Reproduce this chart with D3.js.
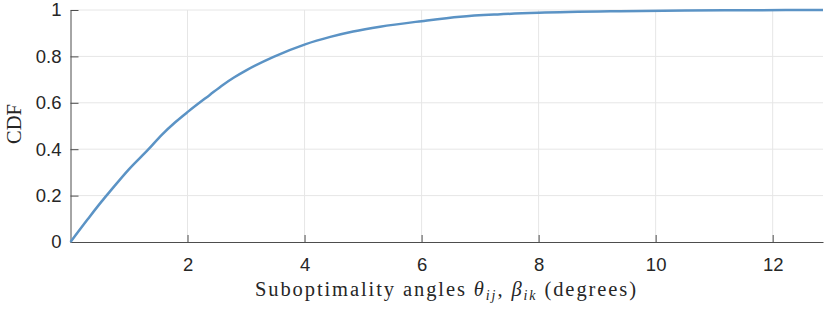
<!DOCTYPE html>
<html>
<head>
<meta charset="utf-8">
<script src="https://cdn.jsdelivr.net/npm/d3@7"></script>
<style>
  body { margin: 0; background: #fff; }
  .tick text { font-family: "Liberation Sans", Arial, sans-serif; font-size: 18.5px; fill: #262626; }
  .lbl { font-family: "Liberation Serif", "Times New Roman", serif; font-size: 20.5px; fill: #262626; }
</style>
</head>
<body>
<div id="chart"></div>
<script>
var angleDeg = [0, 0.3, 0.533, 0.675, 0.99, 1.33, 1.56, 1.79, 2.01, 2.38, 2.61, 2.8, 3.01, 3.47,
                4.01, 4.44, 4.83, 5.29, 6.0, 6.66, 7.3, 8.0, 9.39, 10.5, 11.5, 12.86];
var cdfVal   = [0, 0.1, 0.175, 0.218, 0.311, 0.399, 0.462, 0.516, 0.562, 0.634, 0.678, 0.71, 0.741, 0.798,
                0.852, 0.884, 0.907, 0.928, 0.952, 0.971, 0.981, 0.988, 0.995, 0.998, 0.999, 1.0];
var xTicks = [2, 4, 6, 8, 10, 12];
var yTicks = [0, 0.2, 0.4, 0.6, 0.8, 1];

var W = 830, H = 309;
var m = {left: 70.5, top: 10, right: 7, bottom: 67};

var svg = d3.select("#chart").append("svg")
  .attr("width", W).attr("height", H);

var x = d3.scaleLinear().domain([0, 12.86]).range([m.left, W - m.right]);
var y = d3.scaleLinear().domain([0, 1]).range([H - m.bottom, m.top]);

// grid
svg.append("g").selectAll("line").data(xTicks).enter().append("line")
  .attr("x1", d => x(d)).attr("x2", d => x(d))
  .attr("y1", y(0)).attr("y2", y(1))
  .attr("stroke", "#e6e6e6").attr("stroke-width", 1);
svg.append("g").selectAll("line").data(yTicks.slice(1)).enter().append("line")
  .attr("x1", x(0)).attr("x2", x.range()[1])
  .attr("y1", d => y(d)).attr("y2", d => y(d))
  .attr("stroke", "#e6e6e6").attr("stroke-width", 1);

// axes (ticks pointing inward)
var xAxis = svg.append("g").attr("transform", "translate(0," + y(0) + ")")
  .call(d3.axisBottom(x).tickValues(xTicks).tickSizeInner(-7).tickSizeOuter(0).tickPadding(16));
var yAxis = svg.append("g").attr("transform", "translate(" + x(0) + ",0)")
  .call(d3.axisLeft(y).tickValues(yTicks).tickFormat(d3.format("~g")).tickSizeInner(-8).tickSizeOuter(0).tickPadding(9));
[xAxis, yAxis].forEach(function (a) {
  a.select(".domain").attr("stroke", "#4d4d4d");
  a.selectAll(".tick line").attr("stroke", "#4d4d4d");
  a.selectAll(".tick text").attr("font-family", null).attr("font-size", null);
});

// curve
var line = d3.line()
  .x(function (d, i) { return x(angleDeg[i]); })
  .y(function (d) { return y(d); })
  .curve(d3.curveMonotoneX);
svg.append("path").datum(cdfVal)
  .attr("d", line)
  .attr("fill", "none")
  .attr("stroke", "#5b93c5")
  .attr("stroke-width", 2.5)
  .attr("stroke-linejoin", "round");

// labels
var xl = svg.append("text").attr("class", "lbl")
  .attr("x", 445.5).attr("y", 296)
  .attr("text-anchor", "middle")
  .attr("textLength", 381).attr("lengthAdjust", "spacing");
xl.append("tspan").text("Suboptimality angles ");
xl.append("tspan").attr("font-style", "italic").text("θ");
xl.append("tspan").attr("font-style", "italic").attr("font-size", "14px").attr("dy", 4).text("ij");
xl.append("tspan").attr("dy", -4).text(", ");
xl.append("tspan").attr("font-style", "italic").text("β");
xl.append("tspan").attr("font-style", "italic").attr("font-size", "14px").attr("dy", 4).text("ik");
xl.append("tspan").attr("dy", -4).text(" (degrees)");

svg.append("text").attr("class", "lbl")
  .attr("transform", "translate(21,124) rotate(-90)")
  .attr("text-anchor", "middle")
  .text("CDF");
</script>
</body>
</html>
